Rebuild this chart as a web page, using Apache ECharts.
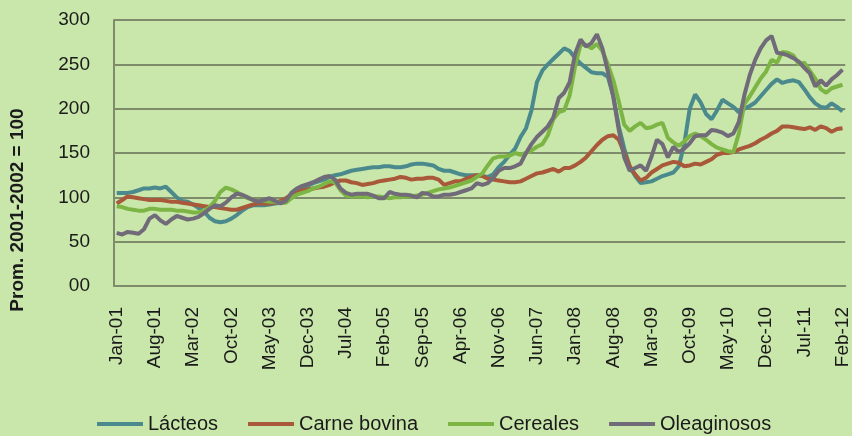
<!DOCTYPE html>
<html>
<head>
<meta charset="utf-8">
<script src="https://cdn.jsdelivr.net/npm/echarts@6/dist/echarts.min.js"></script>
<style>
html,body{margin:0;padding:0;background:#C9E7AB;}
#chart{width:852px;height:436px;}
</style>
</head>
<body>
<div id="chart"></div>
<script>
// monthly, Jan-01 .. Feb-12
var monthNames = ['Jan','Feb','Mar','Apr','May','Jun','Jul','Aug','Sep','Oct','Nov','Dec'];
var months = [];
for (var y = 1; y <= 12; y++) {
    for (var m = 0; m < 12; m++) {
        if (y == 12 && m > 1) break;
        months.push(monthNames[m] + '-' + (y < 10 ? '0' + y : '' + y));
    }
}

var lacteos = [
    105,105,105,106,108,110,110,111,110,112,
    106,100,96,95,92,88,84,77,73,72,
    73,76,80,85,89,91,91,91,92,93,
    94,95,100,105,109,113,116,118,120,123,
    125,126,128,130,131,132,133,134,134,135,
    135,134,134,135,137,138,138,137,136,132,
    130,130,128,126,125,125,125,124,123,126,
    134,140,148,155,168,178,198,230,243,250,
    256,262,268,265,257,251,246,241,240,240,
    236,214,180,155,135,124,116,117,118,121,
    124,126,128,135,160,200,216,207,194,188,
    198,210,206,202,196,200,203,207,214,221,
    228,233,229,231,232,230,222,213,206,202,
    201,206,202,197
];
var carne = [
    93,97,101,100,99,98,97,97,97,96,
    95,95,94,93,92,91,90,89,89,88,
    87,86,86,88,90,92,93,93,93,94,
    96,99,103,105,108,109,110,111,112,114,
    117,119,119,117,116,114,115,116,118,119,
    120,121,123,122,120,121,121,122,122,120,
    114,116,118,118,121,123,125,124,121,120,
    119,118,117,117,118,121,124,127,128,130,
    132,129,133,133,136,140,145,152,159,165,
    169,170,165,150,135,126,119,122,128,132,
    136,138,140,139,135,136,138,137,140,143,
    148,150,150,151,154,156,158,161,165,168,
    172,175,180,180,179,178,177,179,176,180,
    178,174,177,178
];
var cereales = [
    90,89,87,86,85,85,87,87,86,86,
    86,85,85,84,83,83,85,89,96,106,
    111,109,106,102,99,97,96,96,95,95,
    94,94,99,103,105,107,110,112,115,118,
    117,108,102,101,101,101,100,101,101,100,
    99,100,100,101,101,102,103,105,107,109,
    110,111,113,115,117,119,123,127,136,144,
    146,146,147,150,148,150,153,157,160,170,
    188,196,198,215,248,272,272,268,273,265,
    250,232,208,182,175,180,184,178,179,182,
    184,167,162,158,163,169,172,169,165,160,
    156,154,152,151,172,205,214,224,234,242,
    255,252,264,263,260,250,252,243,234,222,
    218,223,225,227
];
var oleaginosos = [
    60,58,61,60,59,64,76,80,74,70,
    75,79,77,75,76,78,82,87,91,90,
    94,100,104,103,100,97,95,97,99,96,
    93,96,105,110,113,115,117,120,123,124,
    120,110,105,103,104,104,104,102,99,99,
    106,104,103,103,102,100,105,104,101,101,
    103,103,104,106,108,110,116,114,116,122,
    130,133,133,135,138,150,160,168,174,180,
    190,212,218,230,262,278,270,274,284,268,
    242,213,176,145,130,133,136,130,146,165,
    160,145,157,151,155,161,169,170,170,176,
    175,173,169,172,185,215,238,255,268,277,
    282,263,262,260,257,253,246,240,225,232,
    226,233,238,244
];

var seriesNames = ['Lácteos','Carne bovina','Cereales','Oleaginosos'];
var seriesColors = ['#4A8A8D','#A95839','#7DB544','#716B79'];
var seriesData = [lacteos, carne, cereales, oleaginosos];

var axisColor = '#7E8C6C';
var font = 'Liberation Sans, Arial, sans-serif';

var myChart = echarts.init(document.getElementById('chart'));

var series = [];
for (var i = 0; i < seriesNames.length; i++) {
    series.push({
        name: seriesNames[i],
        type: 'line',
        data: seriesData[i],
        symbol: 'none',
        smooth: false,
        lineStyle: {width: 4, color: seriesColors[i]},
        itemStyle: {color: seriesColors[i]}
    });
}

myChart.setOption({
    backgroundColor: '#C9E7AB',
    animation: false,
    textStyle: {fontFamily: font},
    grid: {left: 114, right: 2, top: 20, bottom: 150},
    legend: {
        left: 97,
        top: 414,
        padding: 0,
        itemWidth: 46,
        itemHeight: 4,
        itemGap: 30,
        icon: 'rect',
        textStyle: {fontSize: 20, color: '#1a1a1a', fontFamily: font},
        data: seriesNames
    },
    xAxis: {
        type: 'category',
        data: months,
        boundaryGap: true,
        axisLine: {lineStyle: {color: axisColor, width: 2}},
        axisTick: {show: false},
        axisLabel: {
            interval: 6,
            rotate: 90,
            margin: 21,
            fontSize: 19,
            color: '#1a1a1a',
            fontFamily: font
        }
    },
    yAxis: {
        type: 'value',
        min: 0,
        max: 300,
        interval: 50,
        axisLine: {show: true, lineStyle: {color: axisColor, width: 2}},
        axisTick: {show: false},
        splitLine: {lineStyle: {color: axisColor, width: 2}},
        axisLabel: {
            margin: 24,
            fontSize: 19,
            color: '#1a1a1a',
            fontFamily: font,
            formatter: function (v) { return v === 0 ? '00' : '' + v; }
        }
    },
    graphic: [{
        type: 'text',
        x: 18,
        y: 210,
        rotation: Math.PI / 2,
        style: {
            text: 'Prom. 2001-2002 = 100',
            font: 'bold 19px ' + font,
            fill: '#1a1a1a',
            textAlign: 'center',
            textVerticalAlign: 'middle'
        }
    }],
    series: series
});
</script>
</body>
</html>
